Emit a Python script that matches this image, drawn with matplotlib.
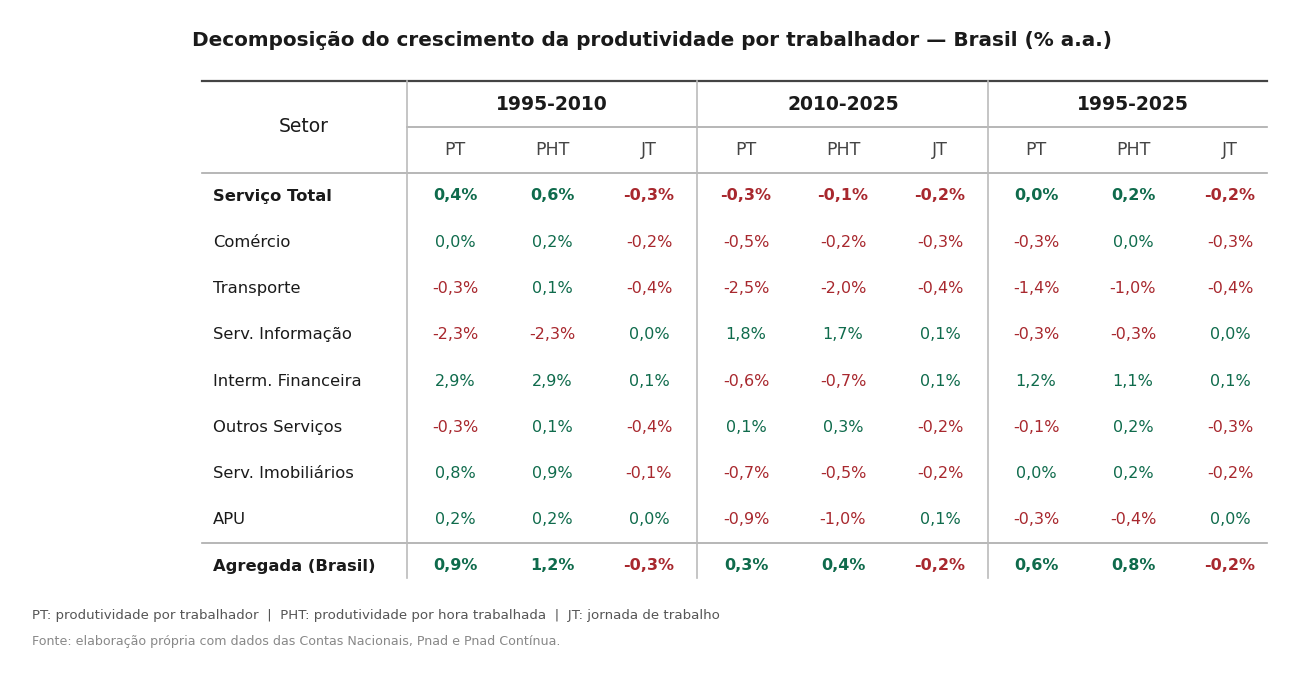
import matplotlib.pyplot as plt

setores = ["Serviço Total", "Comércio", "Transporte", "Serv. Informação",
           "Interm. Financeira", "Outros Serviços", "Serv. Imobiliários", "APU",
           "Agregada (Brasil)"]
periodos = ["1995-2010", "2010-2025", "1995-2025"]
medidas = ["PT", "PHT", "JT"]
valores = [
    [0.4, 0.6, -0.3, -0.3, -0.1, -0.2, 0.0, 0.2, -0.2],
    [0.0, 0.2, -0.2, -0.5, -0.2, -0.3, -0.3, 0.0, -0.3],
    [-0.3, 0.1, -0.4, -2.5, -2.0, -0.4, -1.4, -1.0, -0.4],
    [-2.3, -2.3, 0.0, 1.8, 1.7, 0.1, -0.3, -0.3, 0.0],
    [2.9, 2.9, 0.1, -0.6, -0.7, 0.1, 1.2, 1.1, 0.1],
    [-0.3, 0.1, -0.4, 0.1, 0.3, -0.2, -0.1, 0.2, -0.3],
    [0.8, 0.9, -0.1, -0.7, -0.5, -0.2, 0.0, 0.2, -0.2],
    [0.2, 0.2, 0.0, -0.9, -1.0, 0.1, -0.3, -0.4, 0.0],
    [0.9, 1.2, -0.3, 0.3, 0.4, -0.2, 0.6, 0.8, -0.2],
]
negrito = {0, 8}

VERDE = "#0f6b4c"
VERMELHO = "#a8282e"
W, H = 1300, 680

fig = plt.figure(figsize=(13, 6.8), dpi=100)
ax = fig.add_axes([0, 0, 1, 1])
ax.set_xlim(0, W)
ax.set_ylim(H, 0)
ax.axis("off")

ax.text(652, 41, "Decomposição do crescimento da produtividade por trabalhador — Brasil (% a.a.)",
        ha="center", va="center", fontsize=14.4, fontweight="bold", color="#1a1a1a")

col_x = [455, 552, 649, 746, 843, 940, 1036, 1133, 1230]
row_y = [196 + i * 46.25 for i in range(len(setores))]

# linhas
ax.plot([202, 1267], [81, 81], color="#444444", lw=1.6)
ax.plot([407, 1267], [127, 127], color="#aaaaaa", lw=1.2)
ax.plot([202, 1267], [173, 173], color="#aaaaaa", lw=1.2)
ax.plot([202, 1267], [543, 543], color="#aaaaaa", lw=1.2)
for x in [407, 697, 988]:
    ax.plot([x, x], [81, 578], color="#bbbbbb", lw=1.2)

ax.text(304, 127, "Setor", ha="center", va="center", fontsize=13.5, color="#1a1a1a")
for i, p in enumerate(periodos):
    ax.text(col_x[i * 3 + 1], 104, p, ha="center", va="center", fontsize=13.5,
            fontweight="bold", color="#1a1a1a")
    for j, m in enumerate(medidas):
        ax.text(col_x[i * 3 + j], 150, m, ha="center", va="center", fontsize=12.5, color="#444444")

for r, nome in enumerate(setores):
    peso = "bold" if r in negrito else "normal"
    ax.text(213, row_y[r], nome, ha="left", va="center", fontsize=11.8, fontweight=peso, color="#1a1a1a")
    for c, v in enumerate(valores[r]):
        cor = VERDE if v >= 0 else VERMELHO
        s = f"{v:.1f}%".replace(".", ",")
        ax.text(col_x[c], row_y[r], s, ha="center", va="center", fontsize=11.5,
                fontweight=peso, color=cor)

ax.text(32, 615, "PT: produtividade por trabalhador  |  PHT: produtividade por hora trabalhada  |  JT: jornada de trabalho",
        ha="left", va="center", fontsize=9.6, color="#555555")
ax.text(32, 641, "Fonte: elaboração própria com dados das Contas Nacionais, Pnad e Pnad Contínua.",
        ha="left", va="center", fontsize=9.1, color="#888888")

fig.savefig("out.png", dpi=100)
